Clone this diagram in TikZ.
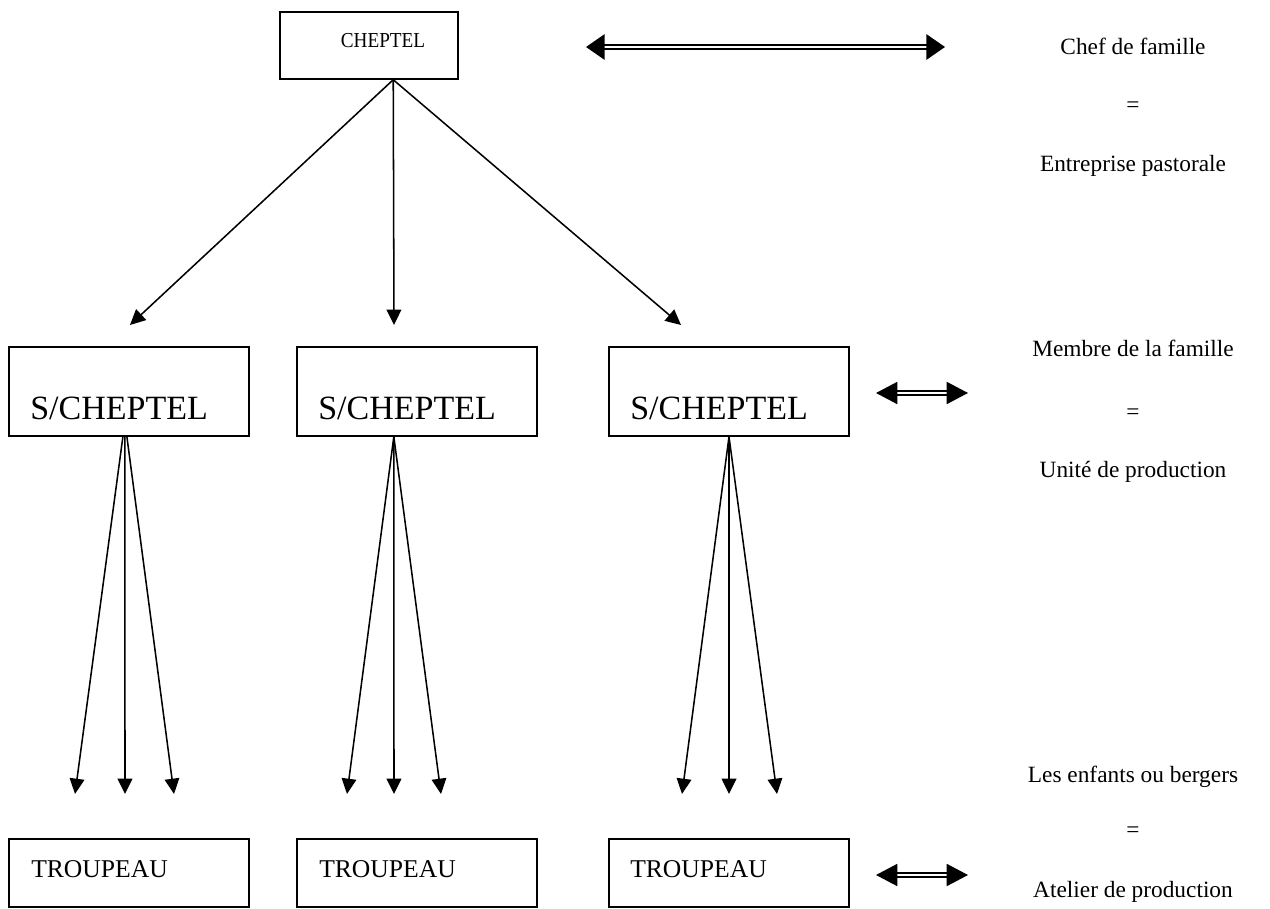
\documentclass[tikz,border=0pt]{standalone}
\usepackage{fontspec}
\usepackage{graphicx}
\setmainfont{Liberation Serif}
\usetikzlibrary{arrows.meta,calc}
\tikzset{
  box/.style={draw, line width=1.1pt, inner sep=0pt},
  boxtext/.style={anchor=base west, inner sep=0pt},
  lbl/.style={anchor=base, inner sep=0pt, font=\fontsize{17.5}{20}\selectfont},
  eq/.style={anchor=center, inner sep=0pt, font=\fontsize{17.5}{20}\selectfont},
  arr/.style={line width=1.15pt, -{Triangle[length=11.5pt,width=11pt]}},
  dbl/.style={double, double distance=1.8pt, line width=1.7pt, {Triangle[length=14pt,width=19pt]}-{Triangle[length=14pt,width=19pt]}},
  sdbl/.style={double, double distance=1.5pt, line width=1.4pt, {Triangle[length=16pt,width=16.5pt]}-{Triangle[length=16pt,width=16.5pt]}}
}
\begin{document}
\begin{tikzpicture}[x=0.75pt,y=-0.75pt]
\useasboundingbox (0,0) rectangle (1270,909);
% boxes
\node[box, minimum width=133.5pt, minimum height=50.25pt] (chep) at (369,45.5) {};
\node[anchor=base, inner sep=0pt] (chept) at (383,48) {\scalebox{0.9}[1]{\fontsize{16}{18}\selectfont CHEPTEL}};
\node[box, minimum width=180pt, minimum height=66.75pt] (s1) at (129,391.5) {};
\node[box, minimum width=180pt, minimum height=66.75pt] (s2) at (417,391.5) {};
\node[box, minimum width=180pt, minimum height=66.75pt] (s3) at (729,391.5) {};
\node[boxtext, font=\fontsize{25.5}{28}\selectfont] (s1t) at (30,419) {S/CHEPTEL};
\node[boxtext, font=\fontsize{25.5}{28}\selectfont] (s2t) at (318,419) {S/CHEPTEL};
\node[boxtext, font=\fontsize{25.5}{28}\selectfont] (s3t) at (630,419) {S/CHEPTEL};
\node[box, minimum width=180pt, minimum height=51pt] (t1) at (129,873) {};
\node[box, minimum width=180pt, minimum height=51pt] (t2) at (417,873) {};
\node[box, minimum width=180pt, minimum height=51pt] (t3) at (729,873) {};
\node[boxtext, font=\fontsize{19.2}{21}\selectfont] (t1t) at (31,877) {TROUPEAU};
\node[boxtext, font=\fontsize{19.2}{21}\selectfont] (t2t) at (319,877) {TROUPEAU};
\node[boxtext, font=\fontsize{19.2}{21}\selectfont] (t3t) at (630,877) {TROUPEAU};
% right labels
\node[lbl] (l1a) at (1133,55) {Chef de famille};
\node[eq] (l1b) at (1133,107) {=};
\node[lbl] (l1c) at (1133,172) {Entreprise pastorale};
\node[lbl] (l2a) at (1133,356) {Membre de la famille};
\node[eq] (l2b) at (1133,414) {=};
\node[lbl] (l2c) at (1133,477) {Unité de production};
\node[lbl] (l3a) at (1133,782) {Les enfants ou bergers};
\node[eq] (l3b) at (1133,832) {=};
\node[lbl] (l3c) at (1133,897) {Atelier de production};
% arrows from CHEPTEL
\coordinate (c0) at ($(chep.south west)!0.635!(chep.south east)$);
\coordinate (e1) at (130,325);
\coordinate (e2) at (394,325);
\coordinate (e3) at (681,325);
\draw[arr] (c0) -- (e1);
\draw[arr] (c0) -- (e2);
\draw[arr] (c0) -- (e3);
% sub arrows
\coordinate (o1) at ($(s1.south west)!0.483!(s1.south east)$);
\coordinate (o2) at ($(s2.south west)!0.404!(s2.south east)$);
\coordinate (o3) at ($(s3.south west)!0.5!(s3.south east)$);
\coordinate (a1) at (75,794); \coordinate (b1) at (125,794); \coordinate (d1) at (174,794);
\coordinate (a2) at (347,794); \coordinate (b2) at (394,794); \coordinate (d2) at (441,794);
\coordinate (a3) at (682,794); \coordinate (b3) at (729,794); \coordinate (d3) at (777,794);
\draw[arr] ([xshift=-1.5pt]o1) -- (a1);
\draw[arr] (o1) -- (b1);
\draw[arr] ([xshift=1.5pt]o1) -- (d1);
\draw[arr] (o2) -- (a2);
\draw[arr] (o2) -- (b2);
\draw[arr] (o2) -- (d2);
\draw[arr] (o3) -- (a3);
\draw[arr] (o3) -- (b3);
\draw[arr] (o3) -- (d3);
% double arrows
\coordinate (da1) at (586,47); \coordinate (db1) at (945,47);
\coordinate (da2) at (876,393); \coordinate (db2) at (968,393);
\coordinate (da3) at (876,875); \coordinate (db3) at (968,875);
\draw[dbl] (da1) -- (db1);
\draw[sdbl] (da2) -- (db2);
\draw[sdbl] (da3) -- (db3);
\end{tikzpicture}
\end{document}
